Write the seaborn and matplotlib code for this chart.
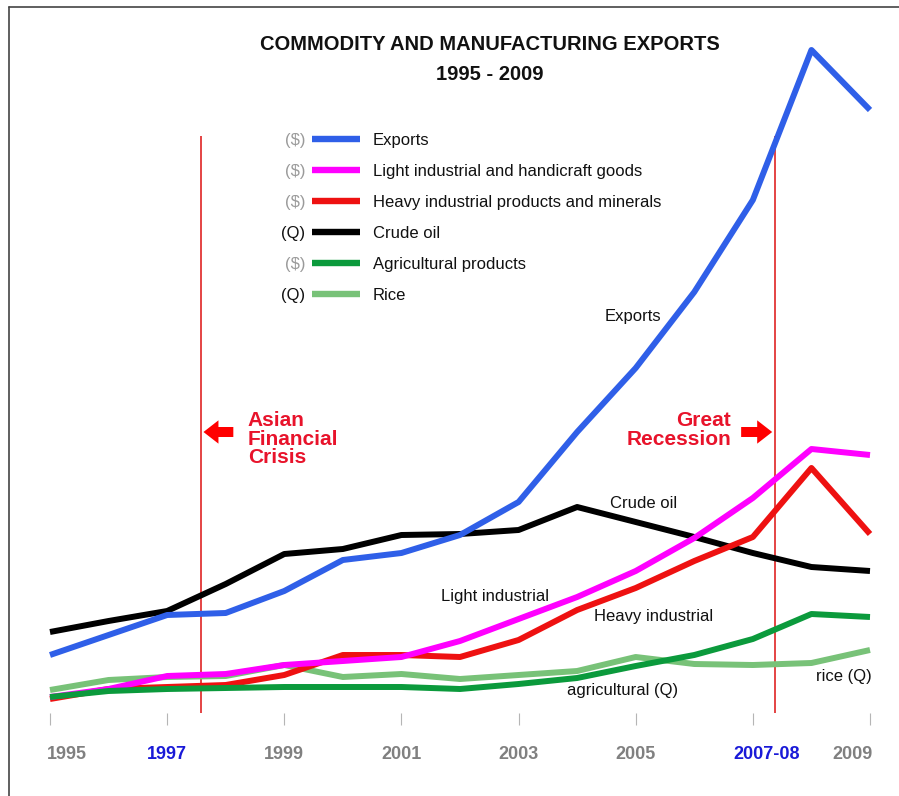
import matplotlib
matplotlib.use("Agg")
import matplotlib.pyplot as plt
from matplotlib.lines import Line2D
import matplotlib.transforms as mtransforms
import seaborn as sns
import pandas as pd

# ---------------- data (relative index, no y scale shown) ----------------
years = list(range(1995, 2010))
exports = [58, 78, 98, 100, 122, 153, 160, 178, 211, 281, 345, 421, 513, 663, 603]
light_ind = [16, 24, 37, 39, 48, 52, 56, 72, 94, 116, 142, 175, 215, 264, 258]
heavy_ind = [14, 24, 26, 28, 38, 58, 58, 56, 73, 103, 125, 152, 176, 245, 179]
crude_oil = [81, 92, 102, 129, 159, 164, 178, 179, 183, 206, 191, 176, 160, 146, 142]
agricultural = [16, 22, 24, 25, 26, 26, 26, 24, 29, 35, 47, 58, 74, 99, 96]
rice = [23, 33, 36, 37, 48, 36, 39, 34, 38, 42, 56, 49, 48, 50, 63]

series_names = ["Exports", "Light industrial and handicraft goods",
                "Heavy industrial products and minerals", "Crude oil",
                "Agricultural products", "Rice"]
series_units = ["($)", "($)", "($)", "(Q)", "($)", "(Q)"]
series_values = [exports, light_ind, heavy_ind, crude_oil, agricultural, rice]
series_colors = ["#2f5fe8", "#ff00ff", "#ee1111", "#000000", "#0b9a3c", "#78c278"]
draw_order = [5, 3, 2, 1, 4, 0]

tick_years = [1995, 1997, 1999, 2001, 2003, 2005, 2007, 2009]
tick_labels = ["1995", "1997", "1999", "2001", "2003", "2005", "2007-08", "2009"]
highlight_ticks = ["1997", "2007-08"]

event_years = [1997.58, 2007.38]

# inline series labels: (text, year, value)
inline_labels = [("Exports", 2004.95, 396), ("Crude oil", 2005.14, 210),
                 ("Light industrial", 2002.60, 117), ("Heavy industrial", 2005.31, 96),
                 ("agricultural (Q)", 2004.78, 22), ("rice (Q)", 2008.56, 37)]

# ---------------- figure ----------------
sns.set_theme(style="white")
plt.rcParams["font.family"] = ["Liberation Sans", "DejaVu Sans"]

W, H = 899, 796
fig = plt.figure(figsize=(W / 100, H / 100), dpi=100)
fig.patch.set_facecolor("white")

def fx(px):
    return px / W

def fy(py):
    return 1 - py / H

ax = fig.add_axes([fx(50), fy(713), fx(870) - fx(50), fy(40) - fy(713)])
ax.set_facecolor("white")

df = pd.DataFrame({
    "year": years * len(series_names),
    "value": sum(series_values, []),
    "series": sum([[n] * len(years) for n in series_names], []),
})

handles = {}
for i in draw_order:
    name = series_names[i]
    sub = df[df["series"] == name]
    sns.lineplot(data=sub, x="year", y="value", color=series_colors[i],
                 linewidth=4.3, ax=ax, legend=False)
    ln = ax.lines[-1]
    ln.set_clip_on(False)
    ln.set_solid_joinstyle("round")
    ln.set_solid_capstyle("butt")
    handles[i] = Line2D([0], [0], color=series_colors[i], linewidth=4.6,
                        solid_capstyle="butt")

ax.set_xlim(1995, 2009)
ax.set_ylim(0, 673)

# event lines
for ev in event_years:
    ax.vlines(ev, 0, 713 - 136, color="#dd1111", linewidth=1.1, zorder=1)

# axis styling
for s in ax.spines.values():
    s.set_visible(False)
ax.set_yticks([])
ax.set_xlabel("")
ax.set_ylabel("")
ax.set_xticks(tick_years)
ax.set_xticklabels(tick_labels)
ax.tick_params(axis="x", direction="out", length=8.6, width=0.8, color="#b5b5b5",
               pad=15, labelsize=13, bottom=True)
ax.xaxis.set_ticks_position("bottom")
for lab in ax.get_xticklabels():
    lab.set_fontweight("bold")
    t = lab.get_text()
    lab.set_color("#1a1ad8" if t in highlight_ticks else "#808080")
    if t == tick_labels[0]:
        lab.set_ha("left")
        lab.set_transform(lab.get_transform() + mtransforms.ScaledTranslation(-3 / 100, 0, fig.dpi_scale_trans))
    elif t == tick_labels[-1]:
        lab.set_ha("right")
        lab.set_transform(lab.get_transform() + mtransforms.ScaledTranslation(3 / 100, 0, fig.dpi_scale_trans))
    elif t == "2007-08":
        lab.set_transform(lab.get_transform() + mtransforms.ScaledTranslation(14 / 100, 0, fig.dpi_scale_trans))

# inline labels
for txt, xv, yv in inline_labels:
    ax.text(xv, yv, txt, ha="center", va="center", fontsize=12, color="#111111")

# crisis annotations
red_txt = "#e8132b"
ax.text(1998.38, 294, "Asian\nFinancial\nCrisis", ha="left", va="top", fontsize=15,
        fontweight="bold", color=red_txt, linespacing=0.98,
        transform=ax.transData + mtransforms.ScaledTranslation(0, 8 / 100, fig.dpi_scale_trans))
ax.text(2006.63, 294, "Great\nRecession", ha="right", va="top", fontsize=15,
        fontweight="bold", color=red_txt, linespacing=0.98,
        transform=ax.transData + mtransforms.ScaledTranslation(0, 8 / 100, fig.dpi_scale_trans))
arrow_style = "simple,head_length=0.9,head_width=1.4,tail_width=0.6"
ax.annotate("", xy=(1997.62, 281), xytext=(1998.13, 281),
            arrowprops=dict(arrowstyle=arrow_style, color="#ff0000", lw=0, shrinkA=0, shrinkB=0))
ax.annotate("", xy=(2007.33, 281), xytext=(2006.80, 281),
            arrowprops=dict(arrowstyle=arrow_style, color="#ff0000", lw=0, shrinkA=0, shrinkB=0))

# legend
leg = ax.legend([handles[i] for i in range(len(series_names))], series_names,
                loc="upper left", bbox_to_anchor=(fx(312), fy(133)),
                bbox_transform=fig.transFigure, frameon=False, fontsize=12,
                handlelength=2.88, handletextpad=0.78, labelspacing=0.955,
                borderpad=0, borderaxespad=0)
for t in leg.get_texts():
    t.set_color("#111111")

fig.canvas.draw()
renderer = fig.canvas.get_renderer()
for t, unit in zip(leg.get_texts(), series_units):
    bb = t.get_window_extent(renderer)
    yc = (bb.y0 + bb.y1) / 2
    fig.text(fx(305), yc / H, unit, ha="right", va="center", fontsize=12,
             color="#9a9a9a" if unit == "($)" else "#111111")

# title
fig.text(fx(490), fy(44), "COMMODITY AND MANUFACTURING EXPORTS", ha="center", va="center",
         fontsize=14.5, fontweight="bold", color="#111111")
fig.text(fx(490), fy(74), "1995 - 2009", ha="center", va="center",
         fontsize=14.5, fontweight="bold", color="#111111")

# screenshot border (top and left)
fig.add_artist(Line2D([fx(9), 1], [fy(7), fy(7)], color="#444444", linewidth=1.2))
fig.add_artist(Line2D([fx(9), fx(9)], [fy(7), 0], color="#444444", linewidth=1.2))

fig.savefig("out.png", dpi=100, facecolor="white")
